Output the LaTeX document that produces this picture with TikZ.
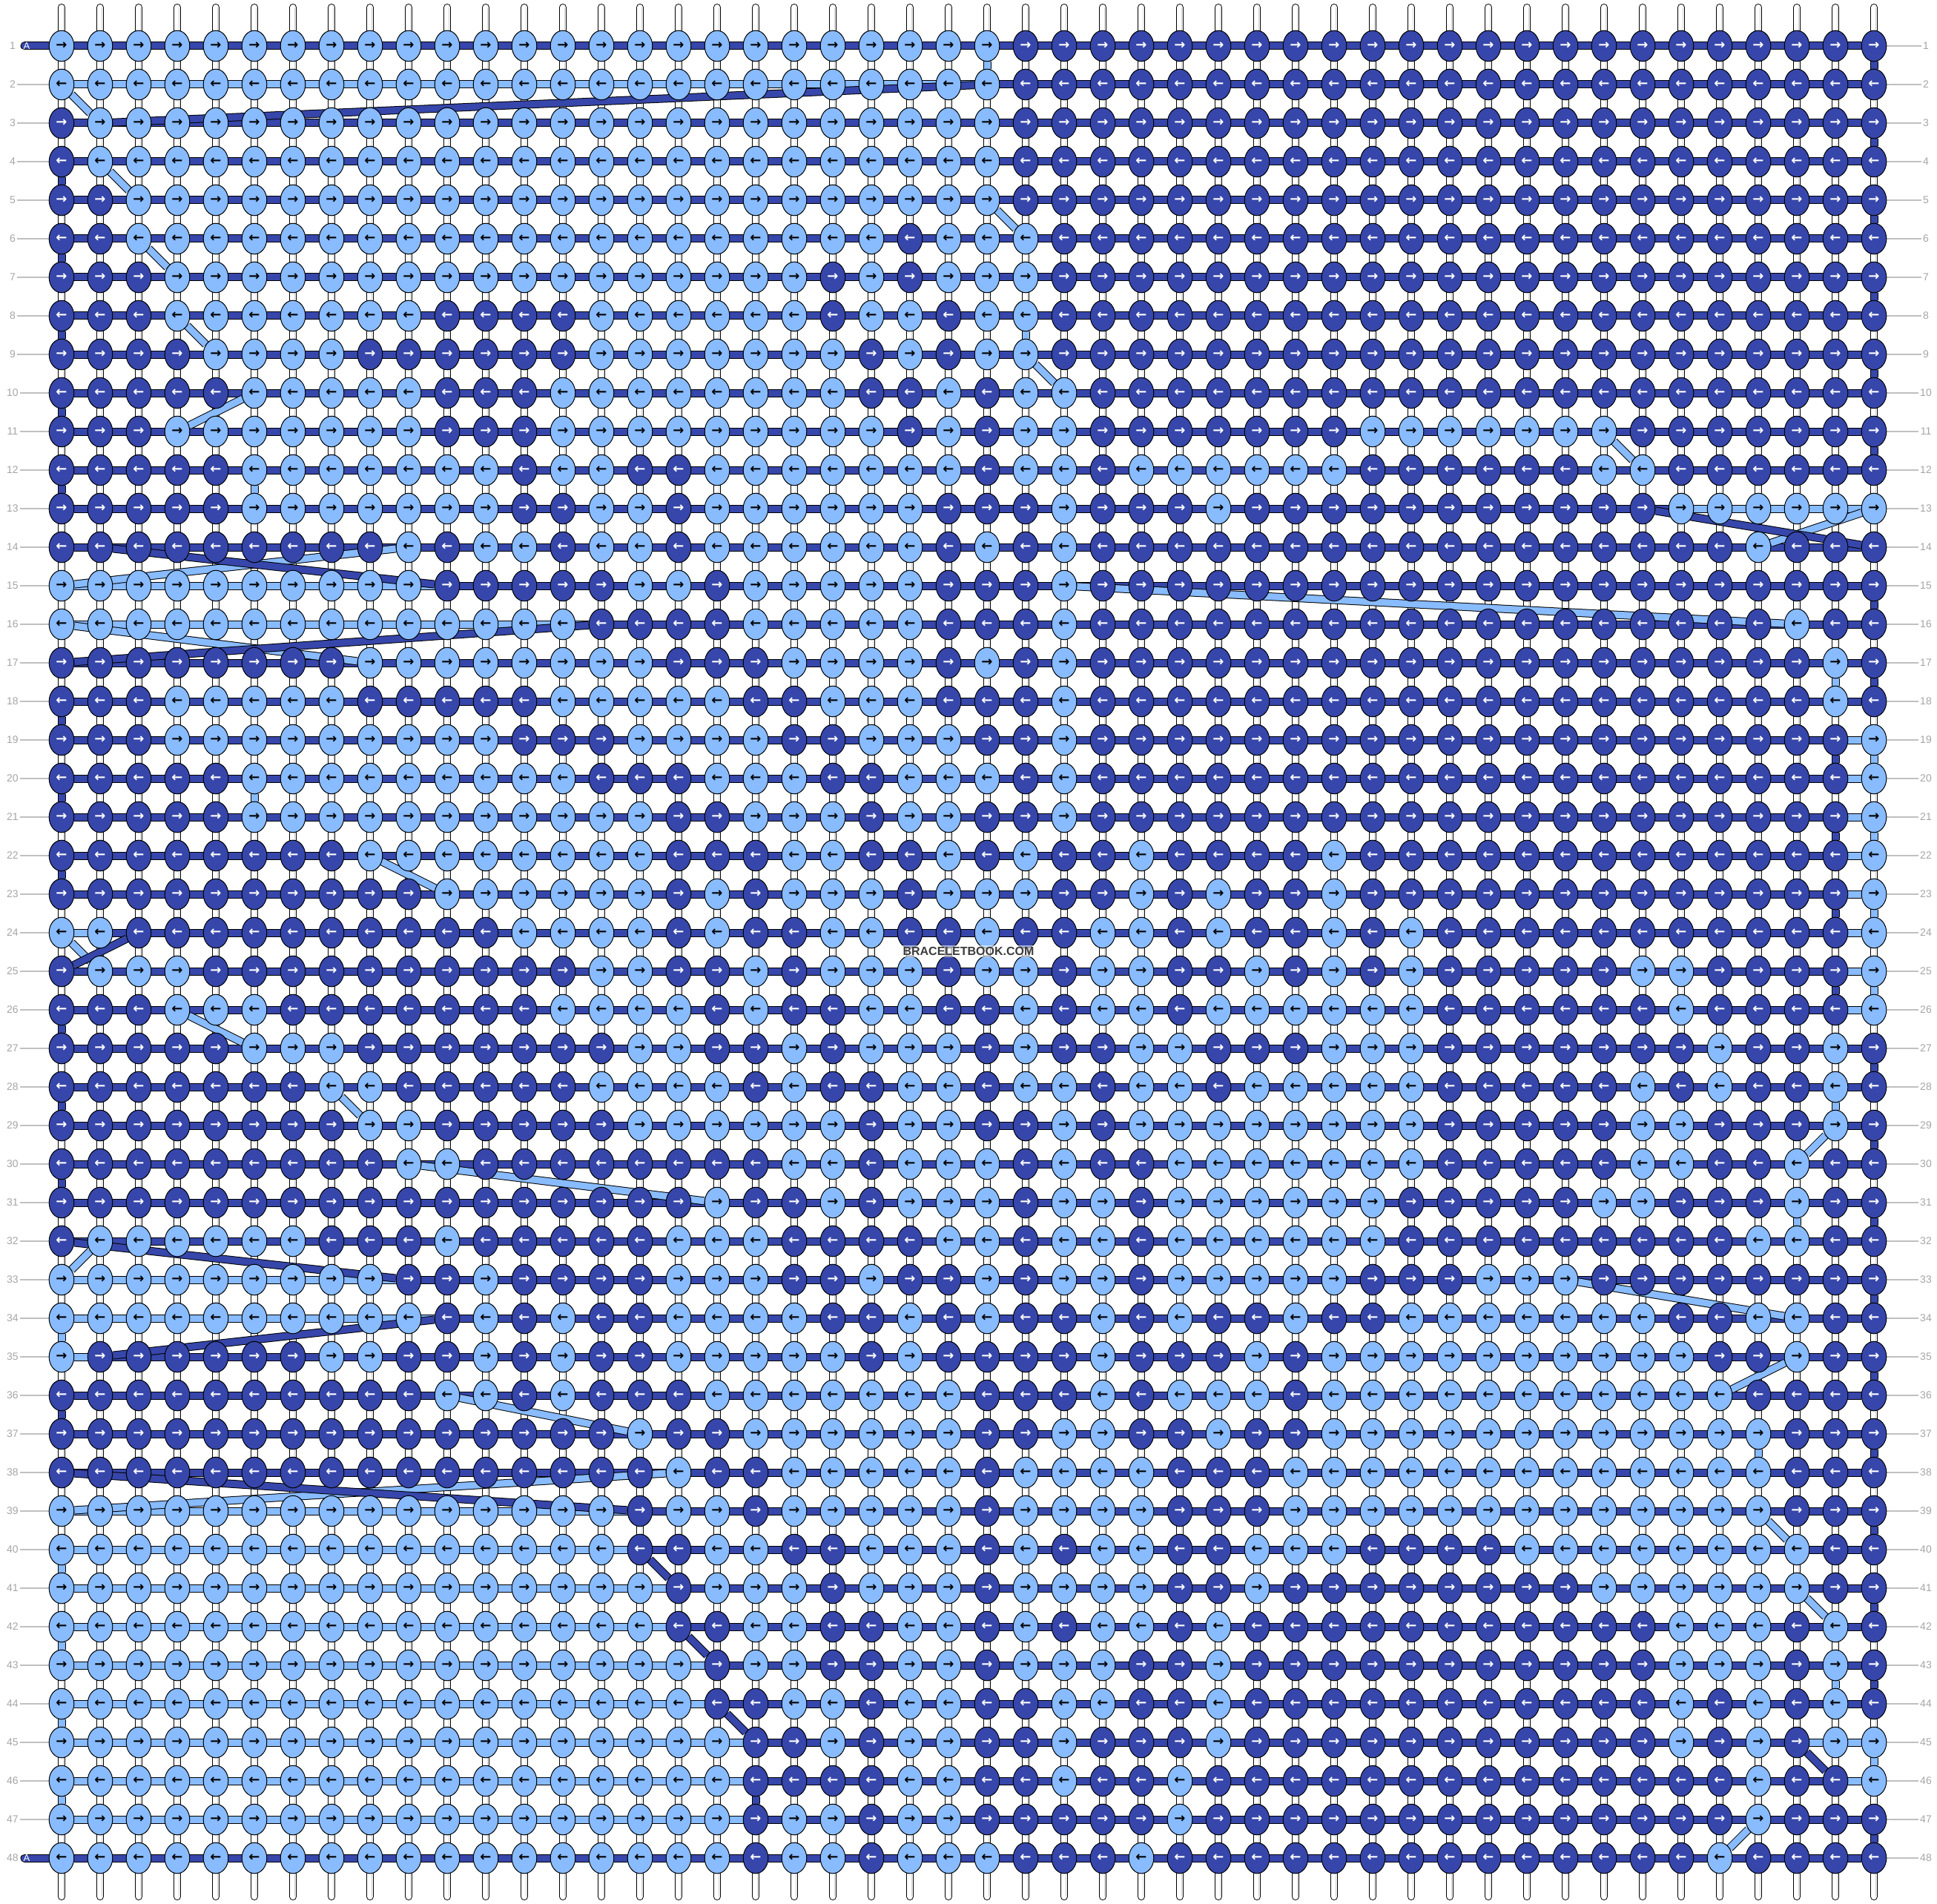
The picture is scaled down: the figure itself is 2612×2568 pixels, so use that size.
\documentclass[tikz,border=0pt]{standalone}
\usepackage{fontspec}
\setsansfont{Liberation Sans}
\newfontfamily\arrowfont{DejaVu Sans}
\usetikzlibrary{shapes.geometric}

\definecolor{knotL}{RGB}{136,187,255}
\definecolor{knotD}{RGB}{54,70,170}
\colorlet{txtL}{black}
\colorlet{txtD}{white}
\definecolor{labelgray}{RGB}{165,165,165}
\definecolor{wmgray}{RGB}{60,60,60}

\pgfdeclarelayer{back}
\pgfdeclarelayer{mid}
\pgfsetlayers{back,mid,main}

% one row of knots: #1 = row, #2 = colour string (L/D) of the 48 knots
\newcount\knotcol
\newcommand\knotrow[2]{\knotcol=0 \def\knotr{#1}\knotscan#2\relax}
\newcommand\knotscan[1]{\ifx#1\relax\else\advance\knotcol by 1 \putknot{#1}\expandafter\knotscan\fi}
\newcommand\putknot[1]{\node[knot, fill=knot#1, text=txt#1] (k-\the\knotcol-\knotr) at ({83+52*(\the\knotcol-1)}, {62+52*(\knotr-1)}) {\ifodd\knotr\relax →\else ←\fi};}

\begin{document}
\begin{tikzpicture}
[x=0.5pt, y=-0.5pt,
knot/.style={ellipse, draw=black, line width=0.5pt, minimum width=16.8pt, minimum height=20.8pt, inner sep=0pt, font=\arrowfont\bfseries\fontsize{9}{9}\selectfont},
weft/.style={line width=0.5pt, double=knotD, double distance=4.5pt},
warp/.style={line width=0.5pt, double=white, double distance=4pt, line cap=round},
rowlabel/.style={font=\sffamily\fontsize{7}{7}\selectfont, text=labelgray, inner sep=1pt},
tick/.style={labelgray!70, line width=0.6pt},
leadA/.style={font=\sffamily\fontsize{6.5}{6.5}\selectfont, text=white, inner sep=0pt}]
\useasboundingbox (0,0) rectangle (2612,2568);

% warp strings
\begin{pgfonlayer}{back}
\foreach \c in {1,...,48} {
  \coordinate (top-\c) at ({83+52*(\c-1)}, 10);
  \coordinate (bot-\c) at ({83+52*(\c-1)}, 2558);
  \draw[warp] (top-\c) -- (bot-\c);
  \draw[labelgray!50, line width=0.4pt] ([xshift=1pt]top-\c) -- ([xshift=1pt]bot-\c);
}
\end{pgfonlayer}

% knots, row by row
\knotrow{1}{LLLLLLLL LLLLLLLL LLLLLLLL LDDDDDDD DDDDDDDD DDDDDDDD}
\knotrow{2}{LLLLLLLL LLLLLLLL LLLLLLLL LDDDDDDD DDDDDDDD DDDDDDDD}
\knotrow{3}{DLLLLLLL LLLLLLLL LLLLLLLL LDDDDDDD DDDDDDDD DDDDDDDD}
\knotrow{4}{DLLLLLLL LLLLLLLL LLLLLLLL LDDDDDDD DDDDDDDD DDDDDDDD}
\knotrow{5}{DDLLLLLL LLLLLLLL LLLLLLLL LDDDDDDD DDDDDDDD DDDDDDDD}
\knotrow{6}{DDLLLLLL LLLLLLLL LLLLLLDL LLDDDDDD DDDDDDDD DDDDDDDD}
\knotrow{7}{DDDLLLLL LLLLLLLL LLLLDLDL LLDDDDDD DDDDDDDD DDDDDDDD}
\knotrow{8}{DDDLLLLL LLDDDDLL LLLLDLLD LLDDDDDD DDDDDDDD DDDDDDDD}
\knotrow{9}{DDDDLLLL DDDDDDLL LLLLLDLD LLDDDDDD DDDDDDDD DDDDDDDD}
\knotrow{10}{DDDDDLLL LLDDDLLL LLLLLDDL DLLDDDDD DDDDDDDD DDDDDDDD}
\knotrow{11}{DDDLLLLL LLDDDLLL LLLLLLDL DLLDDDDD DDLLLLLL LDDDDDDD}
\knotrow{12}{DDDDDLLL LLLLDLLD DLLLLLLL DLLDLLLL LLDDDDDD LLDDDDDD}
\knotrow{13}{DDDDDLLL LLLLDDLL DLLLLLLD DDLDDDLD DDDDDDDD DDLLLLLL}
\knotrow{14}{DDDDDDDD DLDLLDLL DLLLLLLD LDLDDDDD DDDDDDDD DDDDLDDD}
\knotrow{15}{LLLLLLLL LLDDDDDL LDLLLLLD DDLDDDDD DDDDDDDD DDDDDDDD}
\knotrow{16}{LLLLLLLL LLLLLLDD DDLLLLLD DDLDDDDD DDDDDDDD DDDDDLDD}
\knotrow{17}{DDDDDDDD LLLLLLLL DDDLLLLD LDLDDDDD DDDDDDDD DDDDDDLD}
\knotrow{18}{DDDLLLLL DDDDDLLL LLDDLLLD DDLDDDDD DDDDDDDD DDDDDDLD}
\knotrow{19}{DDDLLLLL LLLLDDDL LLLDDLLL DDLDDDDD DDDDDDDD DDDDDDDL}
\knotrow{20}{DDDDDLLL LLLLLLDD DLLLDDLL LDLDDDDD DDDDDDDD DDDDDDDL}
\knotrow{21}{DDDDDLLL LLLLLLLL DDLLLDLL DDLDDDDD DDDDDDDD DDDDDDDL}
\knotrow{22}{DDDDDDDD LLLLLLLL DDDLLDDL DLDDLDDD DLDDDDDD DDDDDDDL}
\knotrow{23}{DDDDDDDD DDLLLLLL DLDLLLDL LLDDLDLD DLDDDDDD DDDDDDDL}
\knotrow{24}{LLDDDDDD DDDDLLLL DLDDLLDD LDDLLDLD DLDLDDDD DDDDDDDL}
\knotrow{25}{DLLLDDDD DDDDDDLL DDLDLLLD LLDLLDDL DLDLDDDD DLLDDDDL}
\knotrow{26}{DDDLLLDD DDDDDLLL LDLDDLLD DLDLLDLL LLLLDDDD DDLDDDDL}
\knotrow{27}{DDDDDLLL DDDDDDDL LDDLDLLL DLDDLLDD DLLLDDDD DDDLDDLD}
\knotrow{28}{DDDDDDDL LDDDDDLL LLDLDDLL DLLDLLDL LLLLDDDD DLDLDDLD}
\knotrow{29}{DDDDDDDD LLDDDDDL LLLLLDLL DDLDLLLL LLLLDDDD DLLDDDLD}
\knotrow{30}{DDDDDDDD DLLDDDDD DDDLLDLL LDLDDLLL LLLLDDDD DLLDDLDD}
\knotrow{31}{DDDDDDDD DDDDDDDD DLDDLDLL LDLLDLLL LLLDDDDD LLDDDLDD}
\knotrow{32}{DLLLLLLD DDLDDDDD LLLDDDDL LDLLDLLL LLLDDDDD DDDDLLDD}
\knotrow{33}{LLLLLLLL LDDLDDDD LLLDDLDD LDLLDLLL LLDDDLLL DDDDDDDD}
\knotrow{34}{LLLLLLLL LLDLDLDD LLLLDDLD LDDLDLDD LDDLLLLL LLDDLLDD}
\knotrow{35}{LDDDDDDL LDDLDLDD LLLLLDLD DDDLDDDL DLLLLLLL LLLDDLDD}
\knotrow{36}{DDDDDDDD DDLLDLDD DLLLLLLL DDDLDLLL DLLLLLLL LLLLDDDD}
\knotrow{37}{DDDDDDDD DDDDDDDL DDLLLLLL DDLLDDLD DLLLLLLL LLLLLDDD}
\knotrow{38}{DDDDDDDD DDDDDDDD LDDLLLLL DLLLLDDD LLLLLLLL LLLLLDDD}
\knotrow{39}{LLLLLLLL LLLLLLLD LLDLLLLL DLLLLDDD LLLLLLLL LLLLLDDD}
\knotrow{40}{LLLLLLLL LLLLLLLD DLLDDLLL DLDLLDDL LLDDDDLL LLLLLLDD}
\knotrow{41}{LLLLLLLL LLLLLLLL DLLLDLLL DLLLLDDL DDDDDDDD LLLLLLDD}
\knotrow{42}{LLLLLLLL LLLLLLLL DDLLDDLL DLDLLDLD DDDDDDDD DDLLLDLD}
\knotrow{43}{LLLLLLLL LLLLLLLL LDLLDDLL DLLLDDLD DDDDDDDD DDLLLDLD}
\knotrow{44}{LLLLLLLL LLLLLLLL LDDLLDLL DDLLDDLD DDDDDDDD DDLDLDLD}
\knotrow{45}{LLLLLLLL LLLLLLLL LLDDLDLL DDLDDDLD DDDDDDDD DDLDLDLL}
\knotrow{46}{LLLLLLLL LLLLLLLL LLDDDDLL DDLDDLDD DDDDDDDD DDDDLDDL}
\knotrow{47}{LLLLLLLL LLLLLLLL LLDLLDLL DDDDDLDD DDDDDDDD DDDDLDDD}
\knotrow{48}{LLLLLLLL LLLLLLLL LLDLLDLL LDDDLDDD DDDDDDDD DDDLDDDD}

% row numbers
\foreach \r in {1,...,48} {
  \node[rowlabel] (ll-\r) at (17, {62+52*(\r-1)}) {\r};
  \node[rowlabel] (rl-\r) at (2597, {62+52*(\r-1)}) {\r};
}
\coordinate (lead-1) at (33,62);
\coordinate (lead-48) at (33,2506);
\node[leadA] (a-1) at (36,62) {A};
\node[leadA] (a-48) at (36,2506) {A};

\begin{pgfonlayer}{back}
\foreach \r in {2,...,47} \draw[tick] (ll-\r) -- (k-1-\r);
\foreach \r in {1,...,48} \draw[tick] (k-48-\r) -- (rl-\r);
\end{pgfonlayer}

\begin{pgfonlayer}{mid}
% working threads
\draw[weft, line cap=round] (lead-1) -- (k-1-1);
\draw[weft, line cap=round] (lead-48) -- (k-1-48);
\foreach \r in {1,...,48} \draw[weft] (k-1-\r) -- (k-48-\r);
\foreach \r/\a/\b in {2/1/25, 13/43/48, 15/1/11, 16/1/15, 19/47/48, 20/47/48, 21/47/48, 22/47/48,
    23/47/48, 24/47/48, 25/47/48, 26/47/48, 24/1/2, 33/1/10, 34/1/11, 35/1/2, 39/1/16, 40/1/16,
    41/1/17, 42/1/17, 43/1/18, 44/1/18, 45/1/19, 45/46/48, 46/1/19, 46/47/48, 47/1/19}
  \draw[weft, double=knotL] (k-\a-\r) -- (k-\b-\r);
% turns at the edges and straight drops
\foreach \c/\r [evaluate=\r as \n using int(\r+1)] in {1/4, 1/6, 1/8, 1/10, 1/12, 1/18, 1/20, 1/22,
    1/26, 1/28, 1/30, 1/36, 48/1, 48/3, 48/5, 48/7, 48/9, 48/11, 48/15, 48/17, 48/27, 48/29, 48/31,
    48/33, 48/35, 48/37, 48/39, 48/41, 48/43, 48/47, 47/19, 47/21, 47/23, 47/25, 19/46}
  \draw[weft] (k-\c-\r) -- (k-\c-\n);
\foreach \c/\r [evaluate=\r as \n using int(\r+1)] in {25/1, 26/8, 6/12, 47/17, 6/20, 47/28, 46/31,
    45/37, 47/43, 1/34, 1/40, 1/42, 1/44, 1/46, 48/19, 48/21, 48/23, 48/25, 48/45}
  \draw[weft, double=knotL] (k-\c-\r) -- (k-\c-\n);
% threads changing row
\foreach \a/\p/\b/\q in {1/2/2/3, 2/4/3/5, 3/6/4/7, 4/8/5/9, 6/10/4/11, 25/5/26/6, 26/9/27/10,
    41/11/42/12, 45/14/48/13, 10/14/1/15, 1/16/9/17, 27/15/46/16, 9/22/11/23, 1/24/2/25, 4/26/6/27,
    8/28/9/29, 10/30/18/31, 47/29/46/30, 2/32/1/33, 40/33/46/34, 46/35/44/36, 11/36/16/37,
    17/38/1/39, 45/39/46/40, 46/41/47/42, 45/47/44/48}
  \draw[weft, double=knotL] (k-\a-\p) -- (k-\b-\q);
\foreach \a/\p/\b/\q in {25/2/2/3, 42/13/48/14, 2/14/11/15, 15/16/1/17, 3/24/1/25, 1/32/10/33,
    11/34/2/35, 1/38/16/39, 16/40/17/41, 17/42/18/43, 18/44/19/45, 46/45/47/46}
  \draw[weft] (k-\a-\p) -- (k-\b-\q);
\end{pgfonlayer}

\node[font=\sffamily\bfseries\fontsize{8}{8}\selectfont, text=wmgray, fill=white, fill opacity=0.55, text opacity=1, inner sep=1pt] (mark) at (1306,1283) {BRACELETBOOK.COM};

\end{tikzpicture}
\end{document}
